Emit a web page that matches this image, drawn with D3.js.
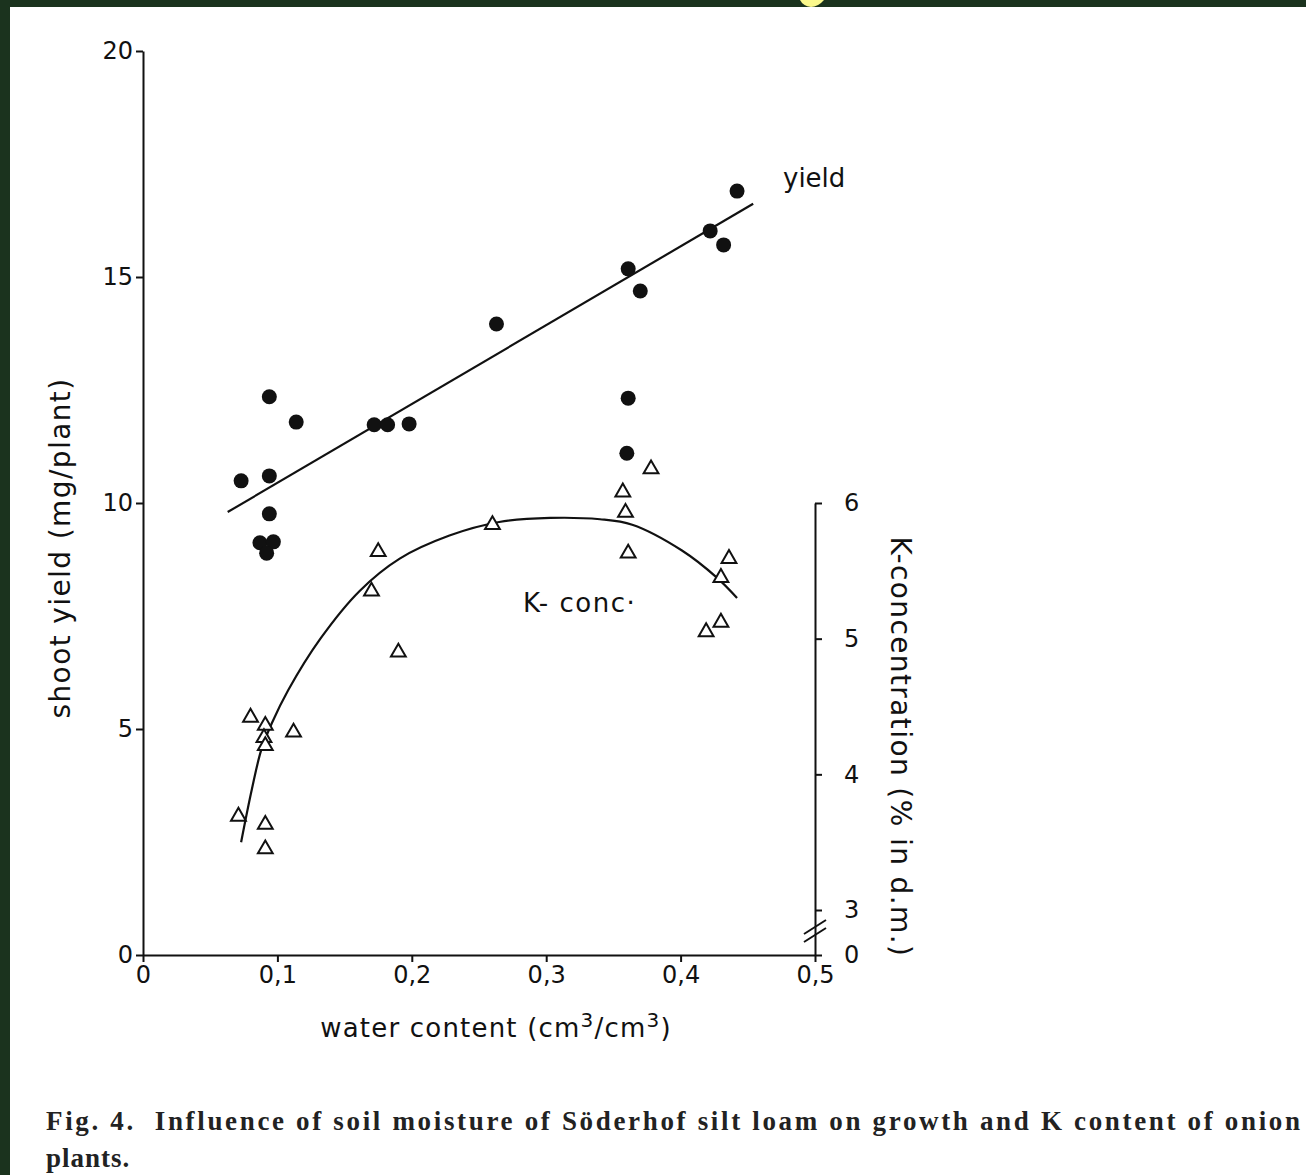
<!DOCTYPE html>
<html>
<head>
<meta charset="utf-8">
<script src="https://cdn.jsdelivr.net/npm/d3@7"></script>
<style>
  body { margin: 0; background: #fff; }
  svg { display: block; }
  .ax text { font-family: "DejaVu Sans", sans-serif; font-size: 24px; fill: #111; }
  .ax path, .ax line { stroke: #111; stroke-width: 2; }
</style>
</head>
<body>
<div id="fig"></div>
<script>
// values
var yieldWater = [0.073, 0.094, 0.094, 0.094, 0.087, 0.097, 0.092, 0.114, 0.172, 0.182, 0.198, 0.263, 0.361, 0.370, 0.361, 0.360, 0.422, 0.432, 0.442];
var yieldValues = [10.49, 12.35, 10.60, 9.76, 9.12, 9.14, 8.89, 11.79, 11.73, 11.73, 11.75, 13.96, 15.18, 14.69, 12.32, 11.10, 16.02, 15.71, 16.90];

var kWater = [0.080, 0.091, 0.090, 0.091, 0.112, 0.071, 0.091, 0.091, 0.175, 0.170, 0.190, 0.260, 0.378, 0.357, 0.359, 0.361, 0.436, 0.430, 0.430, 0.419];
var kValues = [4.42, 4.36, 4.27, 4.21, 4.31, 3.69, 3.63, 3.45, 5.64, 5.35, 4.90, 5.84, 6.25, 6.08, 5.93, 5.63, 5.59, 5.45, 5.12, 5.05];

// fitted lines
var yieldFitX = [0.063, 0.454];
var yieldFitY = [9.80, 16.62];
var kFitX = [0.073, 0.081, 0.088, 0.096, 0.108, 0.132, 0.161, 0.191, 0.228, 0.265, 0.303, 0.340, 0.364, 0.401, 0.427, 0.442];
var kFitY = [3.50, 3.89, 4.18, 4.38, 4.62, 5.00, 5.35, 5.59, 5.76, 5.86, 5.89, 5.88, 5.84, 5.65, 5.45, 5.30];

var xTicks = [0, 0.1, 0.2, 0.3, 0.4, 0.5];
var yTicks = [0, 5, 10, 15, 20];
var kTicks = [0, 3, 4, 5, 6];

var W = 1306, H = 1175;
var svg = d3.select("#fig").append("svg").attr("width", W).attr("height", H);

// page frame
svg.append("rect").attr("x", 0).attr("y", 0).attr("width", W).attr("height", 7).attr("fill", "#1b331e");
svg.append("rect").attr("x", 0).attr("y", 0).attr("width", 10).attr("height", H).attr("fill", "#1b331e");
svg.append("path").attr("d", "M800,0 L824,0 Q818,7 811,7 Q803,6 800,0 Z").attr("fill", "#fbf98c");

var x = d3.scaleLinear().domain([0, 0.5]).range([143, 815]);
var y = d3.scaleLinear().domain([0, 20]).range([955, 51]);
// broken right axis: 0 sits on the x axis, 3..6 is the real range
var k = d3.scaleLinear().domain([0, 3, 6]).range([955, 910, 503]);

var fmt = function(d) { return String(d).replace(".", ","); };

svg.append("g").attr("class", "ax")
    .attr("transform", "translate(0,955)")
    .call(d3.axisBottom(x).tickValues(xTicks).tickFormat(fmt).tickSize(7).tickSizeOuter(0).tickPadding(4));

svg.append("g").attr("class", "ax")
    .attr("transform", "translate(143,0)")
    .call(d3.axisLeft(y).tickValues(yTicks).tickFormat(fmt).tickSize(7).tickSizeOuter(0).tickPadding(3));

var kAxis = svg.append("g").attr("class", "ax")
    .attr("transform", "translate(815,0)")
    .call(d3.axisRight(k).tickValues(kTicks).tickFormat(d3.format("d")).tickSize(7).tickSizeOuter(0).tickPadding(24));
kAxis.selectAll(".tick text").attr("text-anchor", "start").attr("dx", -2);

// break marks on right axis
[0, 8].forEach(function(o) {
    svg.append("line")
        .attr("x1", 804).attr("y1", 942 - o)
        .attr("x2", 826).attr("y2", 928 - o)
        .attr("stroke", "#111").attr("stroke-width", 2);
});

// fits
svg.append("path")
    .datum(d3.zip(yieldFitX, yieldFitY))
    .attr("fill", "none").attr("stroke", "#111").attr("stroke-width", 2.2)
    .attr("d", d3.line().x(function(d) { return x(d[0]); }).y(function(d) { return y(d[1]); }));

svg.append("path")
    .datum(d3.zip(kFitX, kFitY))
    .attr("fill", "none").attr("stroke", "#111").attr("stroke-width", 2.2)
    .attr("d", d3.line().curve(d3.curveCatmullRom).x(function(d) { return x(d[0]); }).y(function(d) { return k(d[1]); }));

// points
svg.selectAll(".yp")
    .data(d3.zip(yieldWater, yieldValues))
    .enter().append("circle")
    .attr("class", "yp")
    .attr("cx", function(d) { return x(d[0]); })
    .attr("cy", function(d) { return y(d[1]); })
    .attr("r", 7.5)
    .attr("fill", "#111");

var tri = d3.symbol().type(d3.symbolTriangle).size(95);
svg.selectAll(".kp")
    .data(d3.zip(kWater, kValues))
    .enter().append("path")
    .attr("class", "kp")
    .attr("transform", function(d) { return "translate(" + x(d[0]) + "," + k(d[1]) + ")"; })
    .attr("d", tri)
    .attr("fill", "#fff").attr("stroke", "#111").attr("stroke-width", 2);

// labels
function label(t, px, py, rot, anchor, size, ls) {
    return svg.append("text").text(t)
        .attr("font-family", "DejaVu Sans, sans-serif").attr("font-size", size || 26).attr("fill", "#111")
        .attr("letter-spacing", ls || 0)
        .attr("text-anchor", anchor || "middle")
        .attr("transform", "translate(" + px + "," + py + ") rotate(" + (rot || 0) + ")");
}
label("yield", 783, 187, 0, "start");
label("K- conc·", 523, 612, 0, "start", 26, 1.5);
label("shoot yield (mg/plant)", 70, 548, -90, "middle", 28, 1.4);
label("K-concentration (% in d.m.)", 891, 747, 90, "middle", 28, 1.4);

var xl = svg.append("text")
    .attr("font-family", "DejaVu Sans, sans-serif").attr("font-size", 26).attr("fill", "#111")
    .attr("letter-spacing", 1.2)
    .attr("text-anchor", "middle").attr("x", 496).attr("y", 1037);
xl.append("tspan").text("water content (cm");
xl.append("tspan").text("3").attr("font-size", 20).attr("dy", -10);
xl.append("tspan").text("/cm").attr("dy", 10);
xl.append("tspan").text("3").attr("font-size", 20).attr("dy", -10);
xl.append("tspan").text(")").attr("dy", 10);

// caption
svg.append("text")
    .attr("x", 46).attr("y", 1130)
    .attr("font-family", "Liberation Serif, serif").attr("font-size", 27).attr("font-weight", "bold").attr("fill", "#222")
    .attr("textLength", 1254).attr("lengthAdjust", "spacing")
    .text("Fig. 4.\u00a0\u00a0Influence of soil moisture of Söderhof silt loam on growth and K content of onion");
svg.append("text")
    .attr("x", 46).attr("y", 1167)
    .attr("font-family", "Liberation Serif, serif").attr("font-size", 27).attr("font-weight", "bold").attr("fill", "#222")
    .attr("letter-spacing", 1)
    .text("plants.");
</script>
</body>
</html>
